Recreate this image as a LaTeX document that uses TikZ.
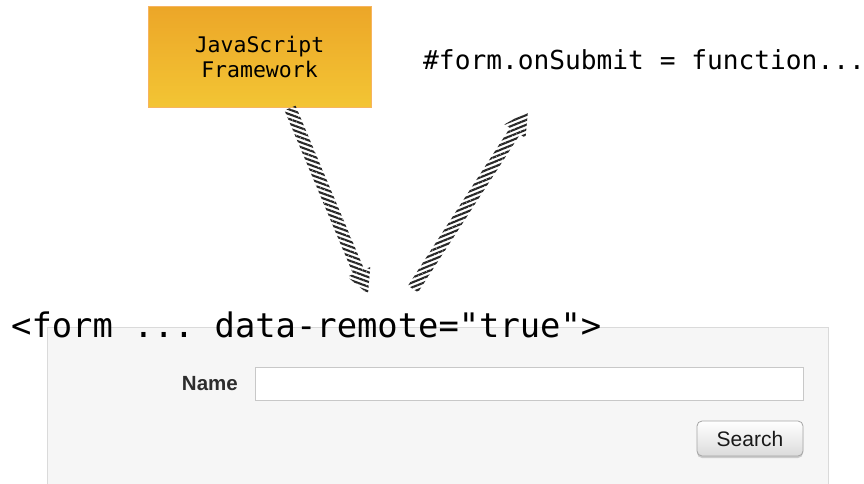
\documentclass[tikz,border=0pt]{standalone}
\usepackage{fontspec}
\setmainfont{Liberation Sans}
\setmonofont{DejaVu Sans Mono}
\usetikzlibrary{calc,patterns.meta,shadows}
\definecolor{jstop}{RGB}{236,166,40}
\definecolor{jsbot}{RGB}{243,197,52}
\definecolor{jsline}{RGB}{247,180,95}
\definecolor{panelfill}{RGB}{246,246,246}
\definecolor{panelline}{RGB}{218,218,218}
\definecolor{inputline}{RGB}{200,200,200}
\definecolor{btnline}{RGB}{165,165,165}
\definecolor{hatchcol}{RGB}{40,40,40}
\definecolor{labelcol}{RGB}{45,45,45}
\tikzset{
  jsbox/.style={shape=rectangle, top color=jstop, bottom color=jsbot, draw=jsline,
    line width=1pt, minimum width=223pt, minimum height=101pt, inner sep=0pt,
    align=center, font=\fontsize{21.5}{25}\selectfont\ttfamily},
  codetext/.style={inner sep=0pt, anchor=base west, font=\fontsize{#1}{#1}\selectfont\ttfamily},
  panelbox/.style={shape=rectangle, fill=panelfill, draw=panelline, line width=1pt,
    anchor=north west, inner sep=0pt},
  inputbox/.style={shape=rectangle, fill=white, draw=inputline, line width=1pt,
    anchor=north west, inner sep=0pt, minimum width=548pt, minimum height=33pt},
  btn/.style={shape=rectangle, rounded corners=5pt, top color=white, bottom color=black!14,
    draw=btnline, line width=0.8pt, minimum width=106pt, minimum height=35pt, inner sep=0pt,
    drop shadow={shadow xshift=0pt, shadow yshift=-2pt, opacity=0.35},
    font=\fontsize{21}{21}\selectfont, text=black!90},
  lbl/.style={inner sep=0pt, anchor=base east, font=\fontsize{20.5}{20.5}\selectfont\bfseries, text=labelcol},
  hatch/.style={pattern={Lines[angle=#1,distance=4.5pt,line width=2.1pt]}, pattern color=hatchcol},
}
\newcommand\hatcharrow[3]{%
  \coordinate (hb) at ($(#2)!24pt!(#1)$);
  \path[hatch=#3] ($(#1)!6pt!90:(#2)$) -- ($(hb)!6pt!90:(#2)$) -- ($(hb)!12.5pt!90:(#2)$)
    -- (#2) -- ($(hb)!12.5pt!-90:(#2)$) -- ($(hb)!6pt!-90:(#2)$) -- ($(#1)!6pt!-90:(#2)$) -- cycle;}
\begin{document}
\begin{tikzpicture}[x=1pt,y=1pt]
\useasboundingbox (0,0) rectangle (864,-483);
% form panel
\node[panelbox, minimum width=781pt, minimum height=175pt] (panel) at (47,-327) {};
\node[lbl] (namelbl) at (238,-390) {Name};
\node[inputbox] (input) at (255,-367) {};
\node[btn] (search) at (750,-438.5) {Search};
% framework box
\node[jsbox] (js) at (259.5,-56.5) {JavaScript\\Framework};
\node[codetext=26.2] (onsub) at (423,-69) {\#form.onSubmit = function...};
\node[codetext=33.8] (formtag) at (11,-337) {<form ... data-remote="true">};
% hatched arrows
\coordinate (a1s) at (290,-108);
\coordinate (a1e) at (368,-294);
\coordinate (a2s) at (413,-289);
\coordinate (a2e) at (528,-111);
\hatcharrow{a1s}{a1e}{160}
\hatcharrow{a2s}{a2e}{22}
\end{tikzpicture}
\end{document}
